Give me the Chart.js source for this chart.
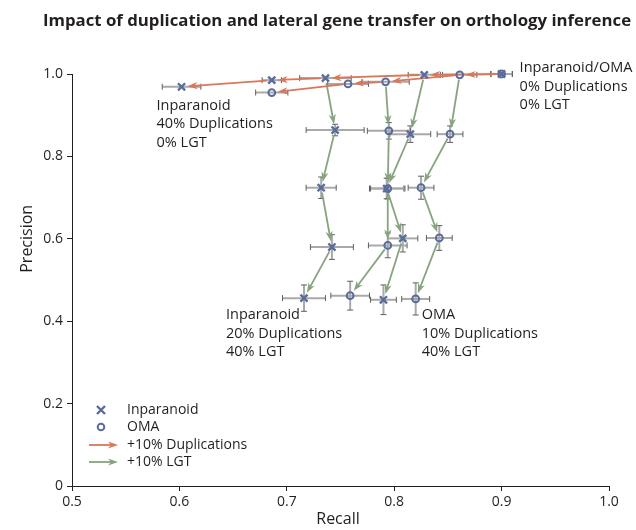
<!DOCTYPE html>
<html>
<head>
<meta charset="utf-8">
<script src="https://cdn.jsdelivr.net/npm/chart.js@4.4.1/dist/chart.umd.min.js"></script>
<style>
  html, body { margin: 0; padding: 0; background: #fff; }
  #wrap { width: 636px; height: 530px; }
</style>
</head>
<body>
<div id="wrap"><canvas id="myChart"></canvas></div>
<script>
// duplication series (0..40% duplications, 0% LGT), first point shared by both methods
const inpDupRecall = [0.900, 0.828, 0.736, 0.686, 0.602];
const inpDupPrec   = [1.000, 0.998, 0.990, 0.985, 0.969];
const inpDupRecErr = [0.010, 0.015, 0.024, 0.009, 0.018];
const omaDupRecall = [0.900, 0.861, 0.792, 0.757, 0.686];
const omaDupPrec   = [1.000, 0.998, 0.981, 0.976, 0.955];
const omaDupRecErr = [0.010, 0.016, 0.022, 0.019, 0.015];

// LGT series (10..40% LGT), starting from the 10% / 20% duplication points
const inp20LgtRecall = [0.745, 0.732, 0.742, 0.716];
const inp20LgtPrec   = [0.864, 0.724, 0.580, 0.456];
const inp20LgtRecErr = [0.027, 0.014, 0.020, 0.020];
const inp20LgtPrecErr = [0.014, 0.026, 0.030, 0.032];

const oma20LgtRecall = [0.795, 0.794, 0.794, 0.759];
const oma20LgtPrec   = [0.862, 0.722, 0.584, 0.462];
const oma20LgtRecErr = [0.020, 0.016, 0.018, 0.018];
const oma20LgtPrecErr = [0.020, 0.025, 0.030, 0.035];

const inp10LgtRecall = [0.815, 0.793, 0.808, 0.790];
const inp10LgtPrec   = [0.854, 0.722, 0.601, 0.452];
const inp10LgtRecErr = [0.019, 0.016, 0.014, 0.012];
const inp10LgtPrecErr = [0.020, 0.025, 0.033, 0.036];

const oma10LgtRecall = [0.852, 0.825, 0.842, 0.820];
const oma10LgtPrec   = [0.854, 0.724, 0.602, 0.454];
const oma10LgtRecErr = [0.012, 0.012, 0.012, 0.013];
const oma10LgtPrecErr = [0.020, 0.028, 0.030, 0.039];

const xTicks = [0.5, 0.6, 0.7, 0.8, 0.9, 1.0];
const yTicks = [0, 0.2, 0.4, 0.6, 0.8, 1.0];

const FONT = '"Open Sans", "Noto Sans", sans-serif';
const ink = '#231f20';
const markerBlue = '#5a6c9b';
const dupRed = '#d9775b';
const lgtGreen = '#87a47f';

function pts(rec, prec, rErr, pErr) {
  return rec.map((r, i) => ({x: r, y: prec[i], xErr: rErr ? rErr[i] : 0, yErr: pErr ? pErr[i] : 0}));
}

const inpDup = pts(inpDupRecall, inpDupPrec, inpDupRecErr, null);
const omaDup = pts(omaDupRecall, omaDupPrec, omaDupRecErr, null);
const inp20 = pts(inp20LgtRecall, inp20LgtPrec, inp20LgtRecErr, inp20LgtPrecErr);
const oma20 = pts(oma20LgtRecall, oma20LgtPrec, oma20LgtRecErr, oma20LgtPrecErr);
const inp10 = pts(inp10LgtRecall, inp10LgtPrec, inp10LgtRecErr, inp10LgtPrecErr);
const oma10 = pts(oma10LgtRecall, oma10LgtPrec, oma10LgtRecErr, oma10LgtPrecErr);

const inparanoidPts = [...inpDup, ...inp20, ...inp10];
const omaPts = [...omaDup, ...oma20, ...oma10];

const redChains = [inpDup, omaDup];
const greenChains = [
  [inpDup[2], ...inp20],
  [omaDup[2], ...oma20],
  [inpDup[1], ...inp10],
  [omaDup[1], ...oma10]
];

function drawArrow(ctx, x1, y1, x2, y2, color, startGap, endGap) {
  const dx = x2 - x1, dy = y2 - y1;
  const len = Math.hypot(dx, dy);
  const ux = dx / len, uy = dy / len;
  const sx = x1 + ux * startGap, sy = y1 + uy * startGap;
  const tx = x2 - ux * endGap, ty = y2 - uy * endGap;
  const hl = 10, hw = 3.6;
  const bx = tx - ux * hl, by = ty - uy * hl;
  ctx.save();
  ctx.strokeStyle = color;
  ctx.fillStyle = color;
  ctx.lineWidth = 1.8;
  ctx.beginPath();
  ctx.moveTo(sx, sy);
  ctx.lineTo(bx + ux * 4, by + uy * 4);
  ctx.stroke();
  ctx.beginPath();
  ctx.moveTo(tx, ty);
  ctx.lineTo(bx - uy * hw, by + ux * hw);
  ctx.lineTo(bx + ux * 3, by + uy * 3);
  ctx.lineTo(bx + uy * hw, by - ux * hw);
  ctx.closePath();
  ctx.fill();
  ctx.restore();
}

function drawCross(ctx, x, y, r) {
  ctx.save();
  ctx.strokeStyle = markerBlue;
  ctx.lineWidth = 2.4;
  ctx.beginPath();
  ctx.moveTo(x - r, y - r); ctx.lineTo(x + r, y + r);
  ctx.moveTo(x - r, y + r); ctx.lineTo(x + r, y - r);
  ctx.stroke();
  ctx.restore();
}

function drawRing(ctx, x, y, r) {
  ctx.save();
  ctx.strokeStyle = markerBlue;
  ctx.lineWidth = 2;
  ctx.beginPath();
  ctx.arc(x, y, r, 0, Math.PI * 2);
  ctx.stroke();
  ctx.restore();
}

const underlay = {
  id: 'underlay',
  beforeDatasetsDraw(chart) {
    const {ctx, scales: {x, y}} = chart;
    // error bars
    [...inparanoidPts, ...omaPts].forEach(p => {
      const px = x.getPixelForValue(p.x), py = y.getPixelForValue(p.y);
      ctx.save();
      ctx.strokeStyle = '#a9a9a9';
      ctx.lineWidth = 2;
      if (p.xErr) {
        const l = x.getPixelForValue(p.x - p.xErr), r = x.getPixelForValue(p.x + p.xErr);
        ctx.beginPath(); ctx.moveTo(l, py); ctx.lineTo(r, py); ctx.stroke();
        ctx.strokeStyle = '#5f5f5f'; ctx.lineWidth = 1;
        ctx.beginPath();
        ctx.moveTo(l, py - 3); ctx.lineTo(l, py + 3);
        ctx.moveTo(r, py - 3); ctx.lineTo(r, py + 3);
        ctx.stroke();
      }
      ctx.strokeStyle = '#a9a9a9'; ctx.lineWidth = 2;
      if (p.yErr) {
        const t = y.getPixelForValue(p.y + p.yErr), b = y.getPixelForValue(p.y - p.yErr);
        ctx.beginPath(); ctx.moveTo(px, t); ctx.lineTo(px, b); ctx.stroke();
        ctx.strokeStyle = '#5f5f5f'; ctx.lineWidth = 1;
        ctx.beginPath();
        ctx.moveTo(px - 3, t); ctx.lineTo(px + 3, t);
        ctx.moveTo(px - 3, b); ctx.lineTo(px + 3, b);
        ctx.stroke();
      }
      ctx.restore();
    });
    // arrows
    const chainArrows = (chain, color) => {
      for (let i = 0; i < chain.length - 1; i++) {
        const a = chain[i], b = chain[i + 1];
        drawArrow(ctx, x.getPixelForValue(a.x), y.getPixelForValue(a.y),
          x.getPixelForValue(b.x), y.getPixelForValue(b.y), color, 5, 6);
      }
    };
    greenChains.forEach(c => chainArrows(c, lgtGreen));
    redChains.forEach(c => chainArrows(c, dupRed));
  }
};

const overlay = {
  id: 'overlay',
  afterDraw(chart) {
    const {ctx, scales: {x, y}} = chart;
    ctx.save();
    ctx.fillStyle = ink;
    ctx.textBaseline = 'middle';

    // title
    ctx.font = 'bold 16.8px ' + FONT;
    ctx.textAlign = 'center';
    ctx.fillText('Impact of duplication and lateral gene transfer on orthology inference', 337, 21);

    // axis titles
    ctx.font = '16px ' + FONT;
    ctx.fillText('Recall', 338, 519);
    ctx.save();
    ctx.translate(27, y.getPixelForValue(0.6));
    ctx.rotate(-Math.PI / 2);
    ctx.fillText('Precision', 0, 0);
    ctx.restore();

    // annotations anchored to their points
    ctx.font = '14.5px ' + FONT;
    ctx.textAlign = 'left';
    const note = (p, dx, dy, lines) => {
      const px = x.getPixelForValue(p.x) + dx, py = y.getPixelForValue(p.y) + dy;
      lines.forEach((t, i) => ctx.fillText(t, px, py + i * 18.5));
    };
    note(inpDup[0], 18, -6, ['Inparanoid/OMA', '0% Duplications', '0% LGT']);
    note(inpDup[4], -25, 19, ['Inparanoid', '40% Duplications', '0% LGT']);
    note(inp20[3], -78, 17, ['Inparanoid', '20% Duplications', '40% LGT']);
    note(oma10[3], 6, 16, ['OMA', '10% Duplications', '40% LGT']);

    // legend
    ctx.font = '14px ' + FONT;
    const lx = 101, ty = 410;
    drawCross(ctx, lx, ty, 4);
    drawRing(ctx, lx, ty + 17, 3.3);
    drawArrow(ctx, 89, ty + 35, 124, ty + 35, dupRed, 0, 6);
    drawArrow(ctx, 89, ty + 52, 124, ty + 52, lgtGreen, 0, 6);
    ctx.fillStyle = ink;
    ctx.fillText('Inparanoid', 127, ty);
    ctx.fillText('OMA', 127, ty + 17);
    ctx.fillText('+10% Duplications', 127, ty + 35);
    ctx.fillText('+10% LGT', 127, ty + 52);
    ctx.restore();
  }
};

const ctx = document.getElementById('myChart');

new Chart(ctx, {
  type: 'scatter',
  data: {
    datasets: [
      {
        label: 'Inparanoid',
        data: inparanoidPts,
        pointStyle: 'crossRot',
        pointRadius: 5,
        pointBorderWidth: 2.4,
        borderColor: markerBlue,
        backgroundColor: markerBlue,
        clip: false
      },
      {
        label: 'OMA',
        data: omaPts,
        pointStyle: 'circle',
        pointRadius: 3.4,
        pointBorderWidth: 2,
        borderColor: markerBlue,
        backgroundColor: 'rgba(0,0,0,0)',
        clip: false
      }
    ]
  },
  options: {
    responsive: true,
    maintainAspectRatio: false,
    animation: false,
    events: [],
    layout: {padding: {left: 0, right: 27, top: 74, bottom: 0}},
    plugins: {
      legend: {display: false},
      title: {display: false},
      tooltip: {enabled: false}
    },
    scales: {
      x: {
        type: 'linear',
        min: 0.5,
        max: 1.0,
        afterBuildTicks: s => { s.ticks = xTicks.map(v => ({value: v})); },
        afterFit: s => { s.height = 44; s.paddingLeft = 0; s.paddingRight = 0; },
        ticks: {
          callback: v => v.toFixed(1),
          color: ink,
          font: {family: FONT, size: 14},
          padding: 3,
          maxRotation: 0
        },
        grid: {display: true, drawOnChartArea: false, drawTicks: true, tickLength: 5, color: ink},
        border: {display: true, color: ink, width: 1}
      },
      y: {
        type: 'linear',
        min: 0,
        max: 1.0,
        afterBuildTicks: s => { s.ticks = yTicks.map(v => ({value: v})); },
        afterFit: s => { s.width = 72; s.paddingTop = 0; s.paddingBottom = 0; },
        ticks: {
          callback: v => v === 0 ? '0' : v.toFixed(1),
          color: ink,
          font: {family: FONT, size: 14},
          padding: 4
        },
        grid: {display: true, drawOnChartArea: false, drawTicks: true, tickLength: 5, color: ink},
        border: {display: true, color: ink, width: 1}
      }
    }
  },
  plugins: [underlay, overlay]
});
</script>
</body>
</html>
